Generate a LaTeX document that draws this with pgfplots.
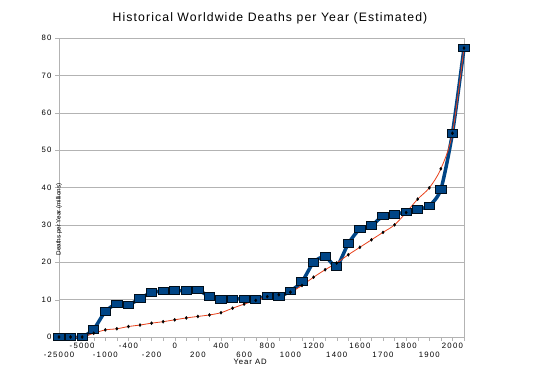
\documentclass[border=0pt]{standalone}
\usepackage{pgfplots}
\pgfplotsset{compat=1.18}
\usepackage{pgfplotstable}
\usepackage{fontspec}
\setmainfont{Liberation Sans}
\definecolor{oblue}{HTML}{004586}
\definecolor{ored}{HTML}{E8401A}
\definecolor{gridg}{HTML}{B3B3B3}
\newcommand\lo[1]{\raisebox{-8.5bp}[\height]{#1}}
\newcommand\hi[1]{#1}
\pgfplotstableread{
i blue red
0 0 0
1 0 0
2 0 0
3 2.1 1.0
4 6.8 1.9
5 8.9 2.2
6 8.6 2.8
7 10.3 3.2
8 11.9 3.7
9 12.3 4.1
10 12.4 4.6
11 12.4 5.1
12 12.6 5.5
13 10.8 5.9
14 10.1 6.5
15 10.2 7.7
16 10.2 8.8
17 10.1 9.8
18 11.0 10.8
19 10.8 11.3
20 12.3 12.0
21 14.8 13.8
22 20.0 16.0
23 21.5 18.0
24 18.9 19.8
25 25.0 22.0
26 28.9 24.0
27 29.8 26.0
28 32.4 28.0
29 32.8 30.0
30 33.5 33.3
31 34.2 36.9
32 35.1 39.9
33 39.5 45.0
34 54.5 54.5
35 77.3 77.3
}\datatable
\begin{document}
\begin{tikzpicture}
\path (0,0) rectangle (560bp,391bp);
\node[font=\fontsize{12.3}{14}\selectfont\addfontfeatures{LetterSpace=9}] at (270bp,373bp) {Historical Worldwide Deaths per Year (Estimated)};
\begin{axis}[
  at={(59bp,54bp)}, anchor=south west,
  scale only axis, width=405bp, height=299bp,
  xmin=0, xmax=35, ymin=0, ymax=80,
  clip=false,
  axis line style={gridg},
  tick style={gridg},
  tick align=outside, tick pos=left,
  major tick length=4bp, minor tick length=4bp,
  xtick={0,2,...,34},
  minor xtick={1,3,...,35},
  xticklabels={\lo{-25000},\hi{-5000},\lo{-1000},\hi{-400},\lo{-200},\hi{0},\lo{200},\hi{400},\lo{600},\hi{800},\lo{1000},\hi{1200},\lo{1400},\hi{1600},\lo{1700},\hi{1800},\lo{1900},\hi{2000}},
  ytick={0,10,...,80},
  ymajorgrids, grid style={gridg},
  /pgf/number format/assume math mode=true,
  ticklabel style={font=\fontsize{7.8}{9}\selectfont\addfontfeatures{LetterSpace=16}},
  xticklabel style={yshift=1bp},
  ylabel={Deaths per Year (millions)},
  ylabel style={font=\fontsize{6.3}{7}\selectfont, at={(axis description cs:0,0.49)}, xshift=-29bp, anchor=center},
  xlabel={Year AD},
  xlabel style={font=\fontsize{7.8}{9}\selectfont\addfontfeatures{LetterSpace=12}, at={(axis description cs:0.472,0)}, yshift=-25bp, anchor=center},
]
\addplot[oblue, line width=3.5bp, smooth, tension=0.4, mark=square*,
  mark options={fill=oblue, draw=black!80!oblue, line width=0.8bp, xscale=1.35, solid}, mark size=3.8bp]
  table[x=i, y=blue] {\datatable};
\addplot[ored, line width=0.8bp, smooth, tension=0.5, mark=diamond*,
  mark options={fill=black, draw=black, line width=0.3bp}, mark size=1.6bp]
  table[x=i, y=red] {\datatable};
\end{axis}
\end{tikzpicture}
\end{document}
